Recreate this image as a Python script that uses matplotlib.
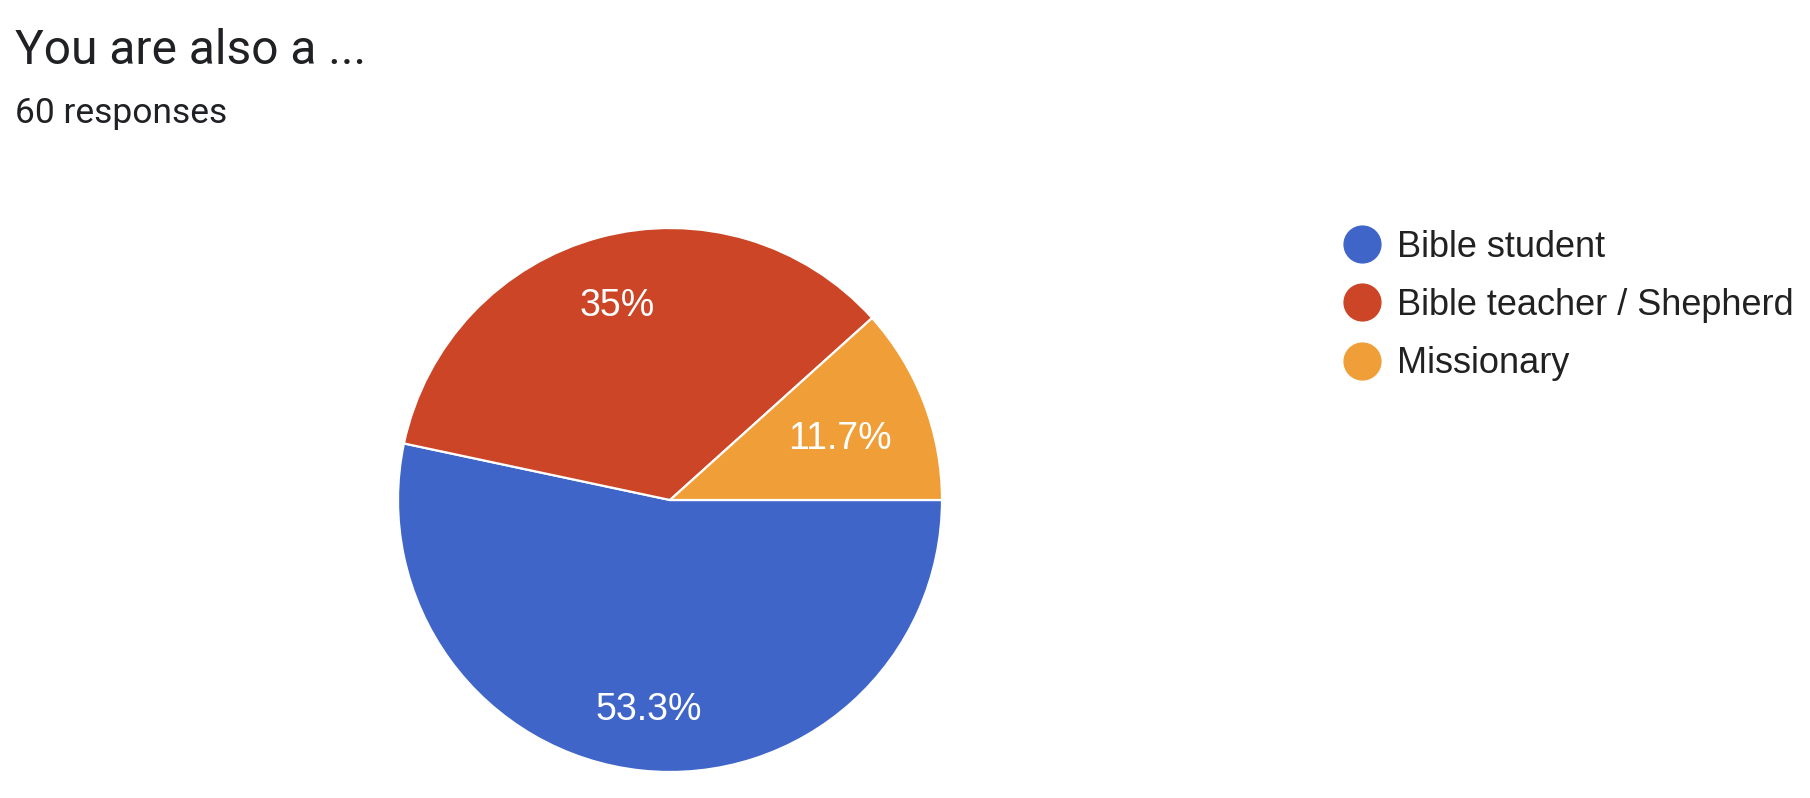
import matplotlib
matplotlib.use("Agg")
import matplotlib.pyplot as plt
from matplotlib.lines import Line2D
from matplotlib.font_manager import FontProperties
import numpy as np

title = "You are also a ..."
subtitle = "60 responses"
categories = ["Bible student", "Bible teacher / Shepherd", "Missionary"]
counts = [32, 21, 7]
pct_labels = ["53.3%", "35%", "11.7%"]
colors = ["#4065C8", "#CB4526", "#F09E38"]

W, H = 1810, 798
fig = plt.figure(figsize=(W / 100, H / 100), dpi=100)
ax = fig.add_axes([0, 0, 1, 1])

cx, cy, r = 670, H - 500, 272
wedges, _ = ax.pie(counts, colors=colors, startangle=0, counterclock=False,
                   center=(cx, cy), radius=r, frame=True,
                   wedgeprops=dict(edgecolor="white", linewidth=1.6))
ax.set_xlim(0, W)
ax.set_ylim(0, H)
ax.set_aspect("equal")
ax.axis("off")

label_dist = [0.76, 0.755, 0.67]
for w, lab, d in zip(wedges, pct_labels, label_dist):
    ang = np.deg2rad((w.theta1 + w.theta2) / 2)
    ax.text(cx + d * r * np.cos(ang), cy + d * r * np.sin(ang) - 4, lab,
            ha="center", va="center", color="white", fontsize=27,
            family="Liberation Sans")

fig.text(15 / W, 1 - 64 / H, title, fontsize=34.5, family="Roboto",
         color="#202124", ha="left", va="baseline")
fig.text(15 / W, 1 - 123 / H, subtitle, fontsize=25.5, family="Roboto",
         color="#202124", ha="left", va="baseline")

handles = [Line2D([], [], marker="o", linestyle="none", markersize=26.5,
                  markerfacecolor=c, markeredgecolor=c) for c in colors]
leg = fig.legend(handles, categories, loc="upper left",
                 bbox_to_anchor=(1340 / W, 1 - 230 / H), frameon=False,
                 prop=FontProperties(family="Liberation Sans", size=26),
                 handletextpad=0.37, labelspacing=0.64, handlelength=1.2,
                 borderpad=0, borderaxespad=0)
for t in leg.get_texts():
    t.set_color("#212121")

fig.savefig("out.png", dpi=100, facecolor="white")
